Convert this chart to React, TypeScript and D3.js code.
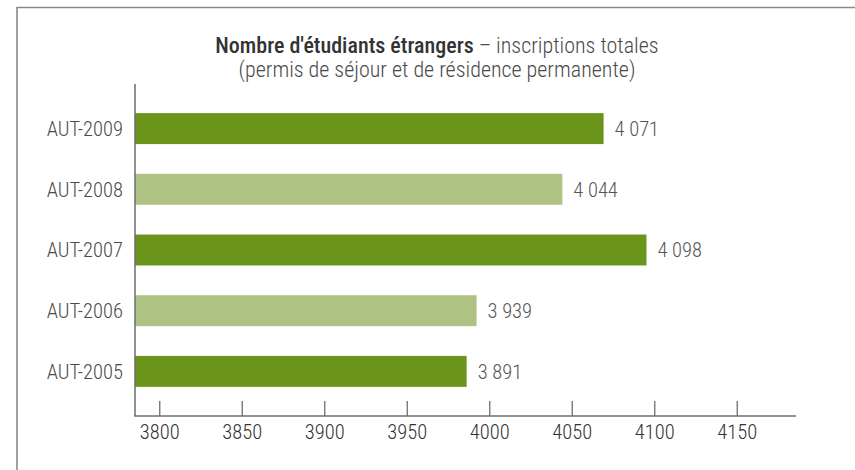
import React from "react";
import * as d3 from "d3";

// Categories (top to bottom)
const categories = ["AUT-2009", "AUT-2008", "AUT-2007", "AUT-2006", "AUT-2005"];
// Printed value labels
const valueLabels = ["4 071", "4 044", "4 098", "3 939", "3 891"];
// Bar lengths as read against the drawn axis (the source chart's bars)
const barValues = [4069, 4044, 4095, 3992, 3986];
// Shade per bar: dark / light alternating
const shades = ["dark", "light", "dark", "light", "dark"];
const xTicks = [3800, 3850, 3900, 3950, 4000, 4050, 4100, 4150];
const xDomain = [3785, 4185];

const W = 855;
const H = 470;
const FONT = "'Liberation Sans Narrow', 'Arial Narrow', 'Roboto Condensed', sans-serif";

export default function App() {
  const x = d3.scaleLinear().domain(xDomain).range([135, 795]);
  const y = d3
    .scaleBand<string>()
    .domain(categories)
    .range([84, 416])
    .paddingInner(0.49)
    .paddingOuter(0.48);
  const colors: Record<string, string> = { dark: "#6a951a", light: "#adc283" };
  const x0 = x(xDomain[0]);
  const bw = y.bandwidth();

  return (
    <svg
      width={W}
      height={H}
      style={{ position: "absolute", left: 0, top: 0, display: "block", background: "#fff" }}
      fontFamily={FONT}
      fontWeight={300}
    >
      {/* frame */}
      <path d={`M17,${H} L17,7.5 L${W},7.5`} fill="none" stroke="#8a8a8a" strokeWidth={1.6} />

      {/* title */}
      <text x={437} y={52.5} textAnchor="middle" fontSize={22} fill="#333">
        <tspan fontWeight={500}>Nombre d'étudiants étrangers</tspan>
        <tspan fill="#4a4a4a"> – inscriptions totales</tspan>
      </text>
      <text x={437} y={76.5} textAnchor="middle" fontSize={22} fill="#4a4a4a">
        (permis de séjour et de résidence permanente)
      </text>

      {/* bars */}
      {categories.map((c, i) => (
        <g key={c}>
          <rect
            x={x0}
            y={y(c)}
            width={x(barValues[i]) - x0}
            height={bw}
            fill={colors[shades[i]]}
          />
          <text
            x={x(barValues[i]) + 11}
            y={(y(c) as number) + bw / 2}
            dy="0.36em"
            fontSize={20.5}
            fill="#555"
          >
            {valueLabels[i]}
          </text>
          <text
            x={123}
            y={(y(c) as number) + bw / 2}
            dy="0.36em"
            textAnchor="end"
            fontSize={20.5}
            fill="#4a4a4a"
          >
            {c}
          </text>
        </g>
      ))}

      {/* axes */}
      <line x1={135} x2={135} y1={84} y2={416} stroke="#6e6e6e" strokeWidth={1.5} />
      <line x1={134.25} x2={796} y1={416} y2={416} stroke="#6e6e6e" strokeWidth={1.5} />
      {xTicks.map((t) => (
        <g key={t}>
          <line x1={x(t)} x2={x(t)} y1={401} y2={416} stroke="#6e6e6e" strokeWidth={1.3} />
          <text x={x(t)} y={439} textAnchor="middle" fontSize={20.5} fill="#333">
            {t}
          </text>
        </g>
      ))}
    </svg>
  );
}
